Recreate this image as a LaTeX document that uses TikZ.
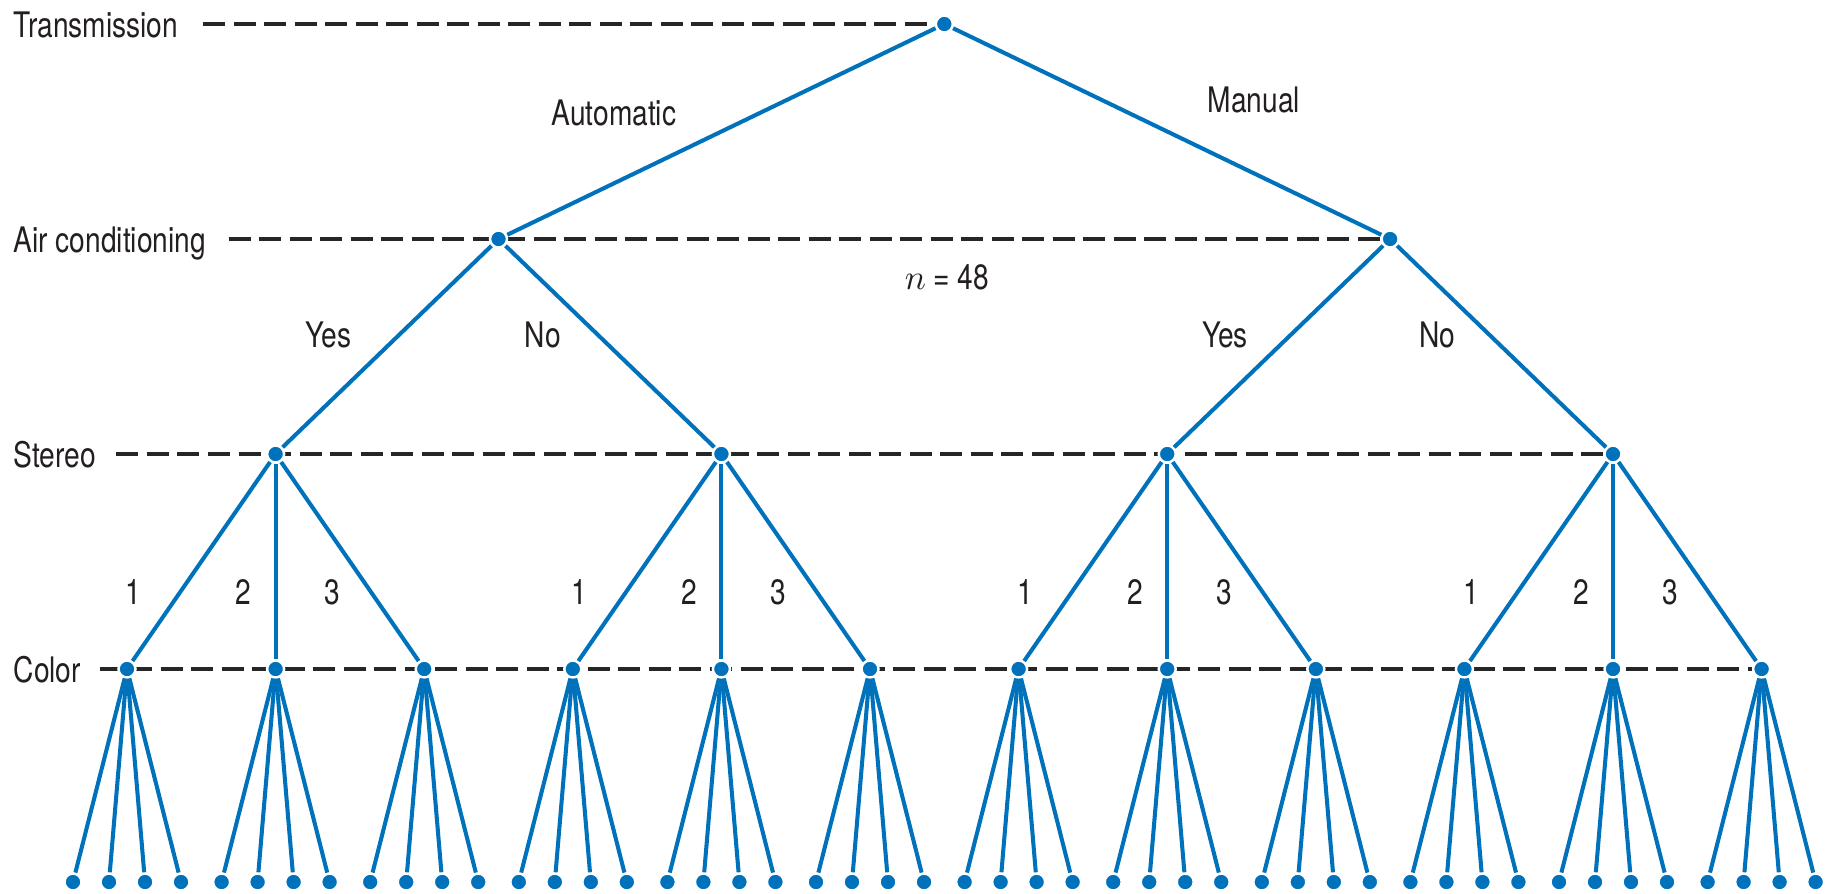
\documentclass[tikz,border=0pt]{standalone}
\usepackage{fontspec}
\setmainfont{TeX Gyre Heros}[FakeStretch=0.8]
\usetikzlibrary{
  calc,
  backgrounds
}
\definecolor{treeblue}{RGB}{0,114,188}
\definecolor{inkgray}{RGB}{35,31,32}
\tikzset{
  % Tree vertex
  dot/.style={
    circle, fill=treeblue, draw=white, line width=0.7pt,
    inner sep=0pt, minimum size=0.17cm
  },
  % Tree branch
  branch/.style={
    draw=treeblue, line width=1.15pt
  },
  % Dashed guide line of a level
  guide/.style={
    draw=black!85, line width=0.9pt, dash pattern=on 0.22cm off 0.085cm
  },
  % Level name on the left
  levellabel/.style={
    anchor=base west, inner sep=0pt, text=inkgray
  },
  % Label beside a branch
  branchlabel/.style={
    inner sep=1pt, text=inkgray
  },
}

\begin{document}
\begin{tikzpicture}[x=0.01cm, y=-0.01cm]
\useasboundingbox (0,0) rectangle (1833,893);

% ── Level names ───────────────────────────────────────────────────────────────
\node[levellabel] (lblTrans)  at (13,37)  {Transmission};
\node[levellabel] (lblAir)    at (13,252) {Air conditioning};
\node[levellabel] (lblStereo) at (13,467) {Stereo};
\node[levellabel] (lblColor)  at (13,682) {Color};

% ── Vertices ──────────────────────────────────────────────────────────────────
\node[dot] (root) at (944.3,24) {};
\node[dot] (acL)  at (498.5,239) {};
\node[dot] (acR)  at (1390.1,239) {};

\foreach \m in {1,...,4}{
  \node[dot] (s\m) at ({127+148.6*(3*\m-2)},454) {};
}

\foreach \k in {1,...,12}{
  \node[dot] (c\k) at ({127+148.6*(\k-1)},669) {};
  \foreach \j in {1,...,4}{
    \node[dot] (l\k-\j) at ({127+148.6*(\k-1)+36*(\j-2.5)},882) {};
  }
}

% ── Dashed level lines ────────────────────────────────────────────────────────
\begin{scope}[on background layer]
  \draw[guide] ($(lblTrans.east|-root)+(24,0)$) -- (root);
  \draw[guide] ($(lblAir.east|-acL)+(22,0)$) -- (acR);
  \draw[guide] ($(lblStereo.east|-s1)+(20,0)$) -- (s4);
  \draw[guide] ($(lblColor.east|-c1)+(18,0)$) -- (c12);
\end{scope}

% ── Branches ──────────────────────────────────────────────────────────────────
\draw[branch] (root) -- (acL);
\draw[branch] (root) -- (acR);
\draw[branch] (acL) -- (s1);
\draw[branch] (acL) -- (s2);
\draw[branch] (acR) -- (s3);
\draw[branch] (acR) -- (s4);

\foreach \m [evaluate=\m as \a using int(3*\m-2),
             evaluate=\m as \b using int(3*\m-1),
             evaluate=\m as \c using int(3*\m)] in {1,...,4}{
  \draw[branch] (s\m) -- (c\a);
  \draw[branch] (s\m) -- (c\b);
  \draw[branch] (s\m) -- (c\c);
}

\foreach \k in {1,...,12}{
  \foreach \j in {1,...,4}{
    \draw[branch] (c\k) -- (l\k-\j);
  }
}

% ── Branch labels ─────────────────────────────────────────────────────────────
\node[branchlabel] (auto)   at (614,113)  {Automatic};
\node[branchlabel] (manual) at (1254,100) {Manual};
\node[branchlabel] (total)  at (947,277)  {$n$ = 48};

\node[branchlabel] (yesL) at (328.5,335) {Yes};
\node[branchlabel] (noL)  at (542.7,335) {No};
\node[branchlabel] (yesR) at (1225,335)  {Yes};
\node[branchlabel] (noR)  at (1437,335)  {No};

\foreach \m in {1,...,4}{
  \node[branchlabel] (one\m)   at ({127+148.6*(3*\m-2)-142},592) {1};
  \node[branchlabel] (two\m)   at ({127+148.6*(3*\m-2)-32},592)  {2};
  \node[branchlabel] (three\m) at ({127+148.6*(3*\m-2)+57},592)  {3};
}

\end{tikzpicture}
\end{document}
